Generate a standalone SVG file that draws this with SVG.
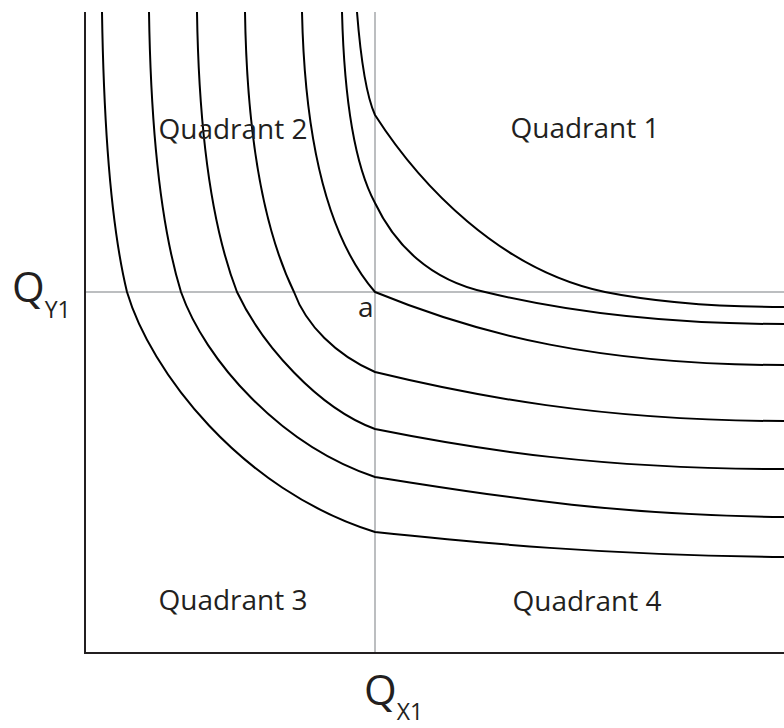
<svg xmlns="http://www.w3.org/2000/svg" width="784" height="728" viewBox="0 0 784 728">
<style>
.ax{fill:none;stroke:#231f20;stroke-width:2}
.gr{fill:none;stroke:#bcbec0;stroke-width:2}
.cv{fill:none;stroke:#000;stroke-width:2;stroke-linejoin:miter}
.lb{font-family:"Open Sans","Noto Sans",sans-serif;fill:#231f20}
.q{font-size:28px;text-anchor:middle}
</style>
<rect width="784" height="728" fill="#fff"/>
<g id="guides">
<line class="gr" x1="375" y1="12" x2="375" y2="653"/>
<line class="gr" x1="85" y1="292" x2="784" y2="292"/>
</g>
<g id="axes">
<polyline class="ax" points="85,12 85,653 784,653"/>
</g>
<g id="connectors">
<path id="curve1" class="cv" d="M357,12 C360,50 366,95 375,115 C420,185 500,270 605,292 C660,303 720,307 784,307"/>
<path id="curve2" class="cv" d="M342,12 C344,90 352,160 375,203 C395,245 430,280 485,292 C580,315 680,324 784,324"/>
<path id="curve3" class="cv" d="M302,12 C305,150 330,240 375,292 C480,335 600,365 784,365"/>
<path id="curve4" class="cv" d="M245,12 C247,140 264,230 294,292 C306,325 336,355 375,372 C470,395 600,421 784,421"/>
<path id="curve5" class="cv" d="M197,12 C199,140 213,230 237,292 C262,345 318,408 375,429 C480,450 600,469 784,469"/>
<path id="curve6" class="cv" d="M149,12 C151,140 162,230 181,292 C205,360 280,445 375,477 C480,493 600,515 784,517"/>
<path id="curve7" class="cv" d="M102,12 C104,140 112,230 127,292 C150,370 240,490 375,532 C480,543 600,555 784,557"/>
</g>
<g id="q1"><text class="lb q" x="585" y="138">Quadrant 1</text></g>
<g id="q2"><text class="lb q" x="233" y="139">Quadrant 2</text></g>
<g id="q3"><text class="lb q" x="233" y="610">Quadrant 3</text></g>
<g id="q4"><text class="lb q" x="587" y="611">Quadrant 4</text></g>
<g id="pa"><text class="lb" x="358" y="317" font-size="28">a</text></g>
<g id="qy1"><text class="lb" x="12" y="302" font-size="42">Q<tspan font-size="23" dy="16">Y1</tspan></text></g>
<g id="qx1"><text class="lb" x="364" y="705" font-size="42">Q<tspan font-size="23" dy="15">X1</tspan></text></g>
</svg>
